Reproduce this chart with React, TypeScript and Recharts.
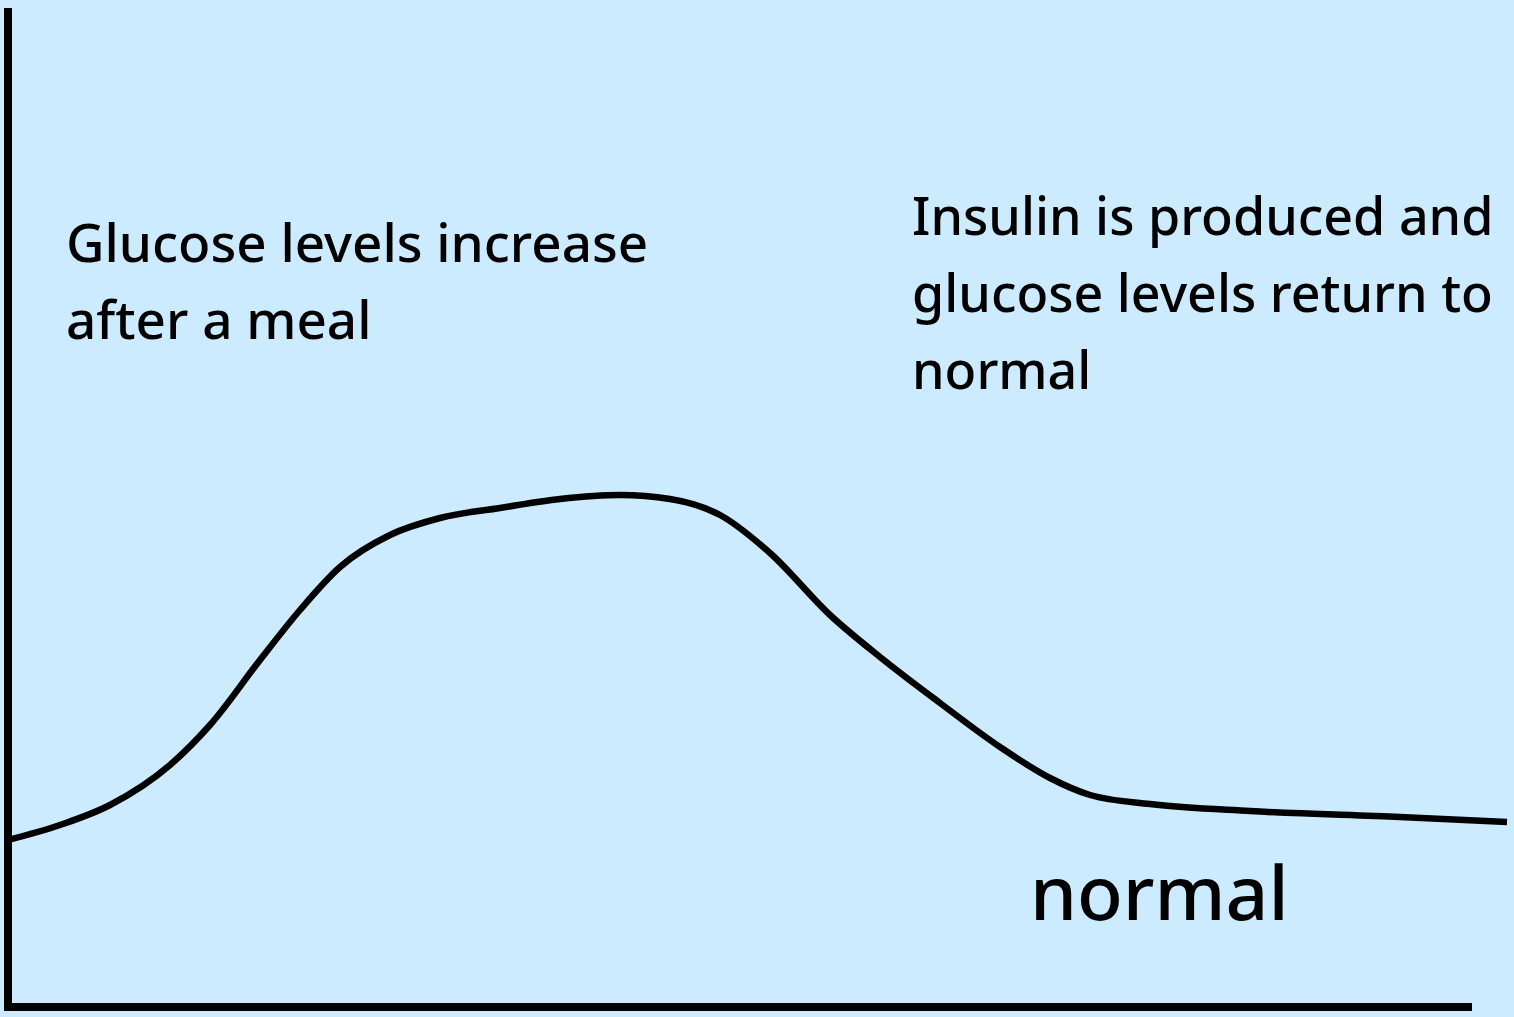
import { ComposedChart, Line, XAxis, YAxis, ReferenceLine } from "recharts";

// time since meal (arbitrary units) and blood glucose (arbitrary units)
const time = [0.8, 6, 11, 17, 21, 26, 30, 34, 39, 44, 50, 56, 62, 67, 72, 77, 83, 88, 94, 100, 105, 109, 115, 125, 140, 150.7];
const glucose = [17.7, 19.2, 21.2, 25.2, 29.2, 35.7, 40.7, 45.0, 48.2, 49.9, 50.9, 51.8, 52.2, 51.8, 50.2, 46.4, 40.2, 36.0, 31.4, 27.0, 23.9, 22.2, 21.3, 20.6, 20.0, 19.5];

const leftNote = ["Glucose levels increase", "after a meal"];
const rightNote = ["Insulin is produced and", "glucose levels return to", "normal"];
const baselineLabel = "normal";

const data = time.map((t, i) => ({ t, g: glucose[i] }));

const W = 1514;
const H = 1017;
const font = "'Noto Sans', sans-serif";

export default function App() {
  return (
    <div style={{ position: "absolute", left: 0, top: 0, width: W, height: H, background: "#cdebff", overflow: "hidden" }}>
      <ComposedChart width={W} height={H} data={data} margin={{ top: 0, right: 0, bottom: 0, left: 0 }}>
        <XAxis dataKey="t" type="number" domain={[0, 151.4]} hide />
        <YAxis type="number" domain={[0, 101.7]} hide />
        <Line
          type="monotone"
          dataKey="g"
          stroke="#000"
          strokeWidth={6.5}
          dot={false}
          activeDot={false}
          isAnimationActive={false}
        />
        <ReferenceLine
          segment={[{ x: 0.8, y: 100.9 }, { x: 0.8, y: 0.7 }]}
          stroke="#000"
          strokeWidth={8}
          ifOverflow="visible"
        />
        <ReferenceLine
          segment={[{ x: 0.4, y: 1.0 }, { x: 147.2, y: 1.0 }]}
          stroke="#000"
          strokeWidth={8}
          ifOverflow="visible"
        />
        <text fontFamily={font} fontSize={53} fontWeight={500} fill="#000">
          {leftNote.map((s, i) => (
            <tspan key={s} x={66} y={262 + i * 77}>{s}</tspan>
          ))}
        </text>
        <text fontFamily={font} fontSize={52} fontWeight={500} fill="#000">
          {rightNote.map((s, i) => (
            <tspan key={s} x={912} y={235 + i * 77}>{s}</tspan>
          ))}
        </text>
        <text x={1030} y={920} fontFamily={font} fontSize={75} fontWeight={500} fill="#000">
          {baselineLabel}
        </text>
      </ComposedChart>
    </div>
  );
}
